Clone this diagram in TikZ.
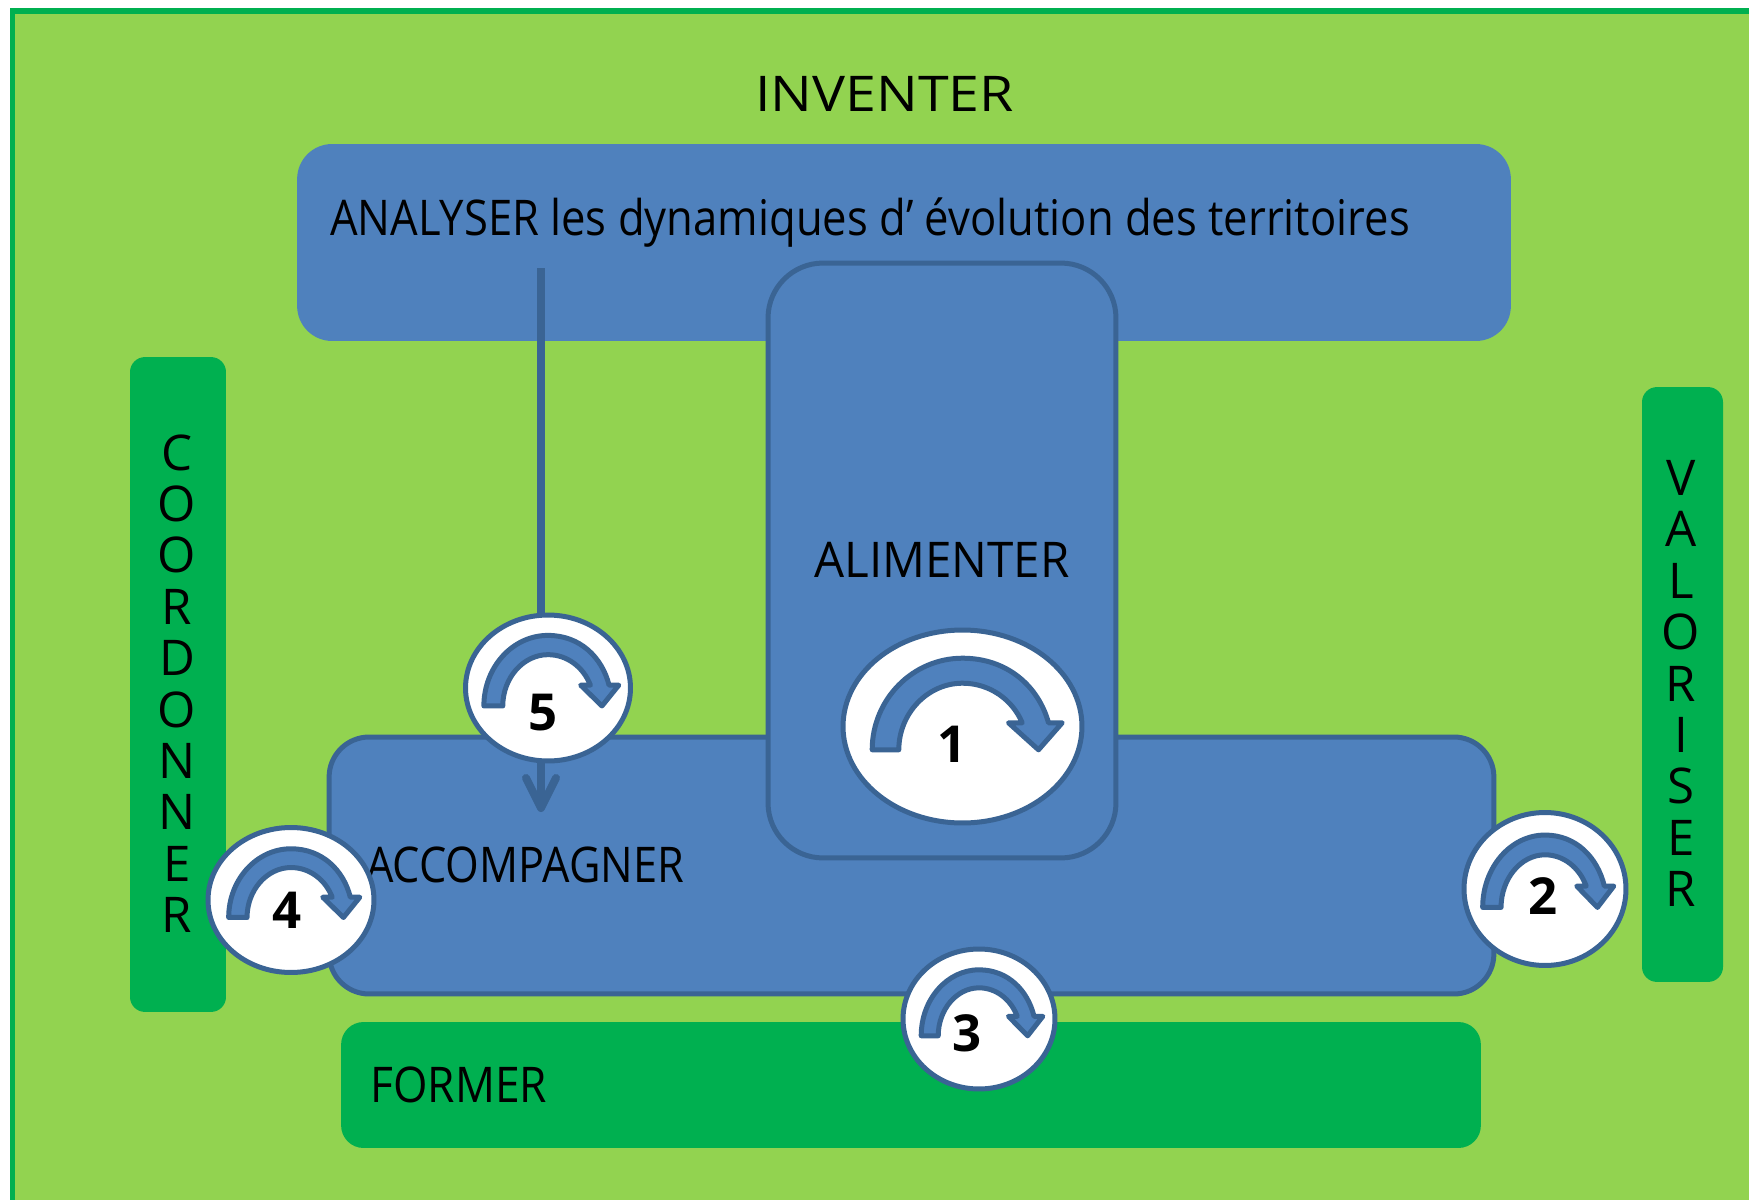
\documentclass[tikz,border=0pt]{standalone}
\usepackage{fontspec}
\setmainfont{Open Sans}
\usetikzlibrary{arrows.meta, positioning, shapes.geometric}
\definecolor{fieldgreen}{HTML}{92D350}
\definecolor{darkgreen}{HTML}{00B050}
\definecolor{boxblue}{HTML}{4F81BD}
\definecolor{edgeblue}{HTML}{3A6494}
\def\stretched#1{\addfontfeature{FakeStretch=#1}}

\begin{document}
\begin{tikzpicture}[x=0.02cm,y=-0.02cm]
    \tikzstyle{label}=[inner sep=0pt, font=\fontsize{28}{29.25}\selectfont, align=center, text=black]
    \tikzstyle{blue box}=[rectangle, fill=boxblue, inner sep=0pt]
    \tikzstyle{edged box}=[blue box, draw=edgeblue, line width=0.1cm]
    \tikzstyle{green box}=[rectangle, fill=darkgreen, inner sep=0pt]
    \tikzstyle{turn}=[ellipse, fill=white, draw=edgeblue, line width=0.1cm, inner sep=0pt]
    \tikzstyle{number}=[inner sep=0pt, font=\fontsize{29}{30}\selectfont\bfseries, text=black]
    \tikzset{turn arrow/.pic={
        \draw[fill=boxblue, draw=edgeblue, line width=0.1cm, line join=round]
            (-90.3,23.3) .. controls (-90.3,-27) and (-50,-68.3) .. (0,-68.3)
            .. controls (45,-68.3) and (76,-40) .. (86,-3.7)
            -- (99.7,-3.7) -- (76,23.3) -- (46,-3.7) -- (59.7,-3.7)
            .. controls (50,-27) and (27,-43.3) .. (0,-43.3)
            .. controls (-35,-43.3) and (-63.7,-13) .. (-63.7,23.3) -- cycle;
    }}

    \useasboundingbox (0,0) rectangle (1749,1200);
    \draw[fill=fieldgreen, draw=darkgreen, line width=0.12cm] (12.5,11) rectangle (1790,1240);

    \node[label] (inventer) at (884.5,94) {\stretched{1.127}INVENTER};

    \node[blue box, rounded corners=0.7cm, minimum width=24.28cm, minimum height=3.94cm] (analyser) at (904,242.5) {};
    \node[label, anchor=west] (analyser-text) at (330,223) {\stretched{0.886}ANALYSER les dynamiques d’ évolution des territoires};

    \node[green box, rounded corners=0.3cm, minimum width=1.92cm, minimum height=13.1cm] (coordonner) at (178,684.5) {};
    \node[label] (coordonner-text) at (177,683.5) {C\\O\\O\\R\\D\\O\\N\\N\\E\\R};
    \node[green box, rounded corners=0.3cm, minimum width=1.62cm, minimum height=11.9cm] (valoriser) at (1682.5,684.5) {};
    \node[label] (valoriser-text) at (1681,683.5) {V\\A\\L\\O\\R\\I\\S\\E\\R};
    \node[green box, rounded corners=0.45cm, minimum width=22.8cm, minimum height=2.52cm] (former) at (911,1085) {};
    \node[label, anchor=west] (former-text) at (370,1085) {\stretched{0.9}FORMER};

    \node[edged box, rounded corners=0.8cm, minimum width=23.3cm, minimum height=5.14cm] (accompagner) at (911.5,865.5) {};
    \node[label, anchor=west] (accompagner-text) at (366,865) {\stretched{0.88}ACCOMPAGNER};

    \coordinate (arrow-start) at (541,268);
    \coordinate (arrow-end) at (541,812);
    \draw[edgeblue, line width=0.16cm, -{Straight Barb[round, length=0.6cm, width=0.6cm]}] (arrow-start) -- (arrow-end);

    \node[edged box, rounded corners=1.1cm, minimum width=6.96cm, minimum height=11.9cm] (alimenter) at (942,560.5) {};
    \node[label] (alimenter-text) at (942,560) {\stretched{0.966}ALIMENTER};

    \node[turn, minimum width=4.78cm, minimum height=3.86cm] (turn-1) at (962.5,726.5) {};
    \pic[xscale=1, yscale=1] at (turn-1.center) {turn arrow};
    \node[number] (num-1) at (952,744) {1};

    \node[turn, minimum width=3.24cm, minimum height=3.06cm] (turn-2) at (1545,889) {};
    \pic[xscale=0.69, yscale=0.79] at (turn-2.center) {turn arrow};
    \node[number] (num-2) at (1543,896) {2};

    \node[turn, minimum width=3.04cm, minimum height=2.8cm] (turn-3) at (979,1019) {};
    \pic[xscale=0.64, yscale=0.72] at (turn-3.center) {turn arrow};
    \node[number] (num-3) at (967,1033) {3};

    \node[turn, minimum width=3.32cm, minimum height=2.9cm] (turn-4) at (291,900) {};
    \pic[xscale=0.69, yscale=0.75] at (turn-4.center) {turn arrow};
    \node[number] (num-4) at (287,910) {4};

    \node[turn, minimum width=3.3cm, minimum height=2.92cm] (turn-5) at (548,688) {};
    \pic[xscale=0.71, yscale=0.77] at (turn-5.center) {turn arrow};
    \node[number] (num-5) at (543,713) {5};
\end{tikzpicture}
\end{document}
